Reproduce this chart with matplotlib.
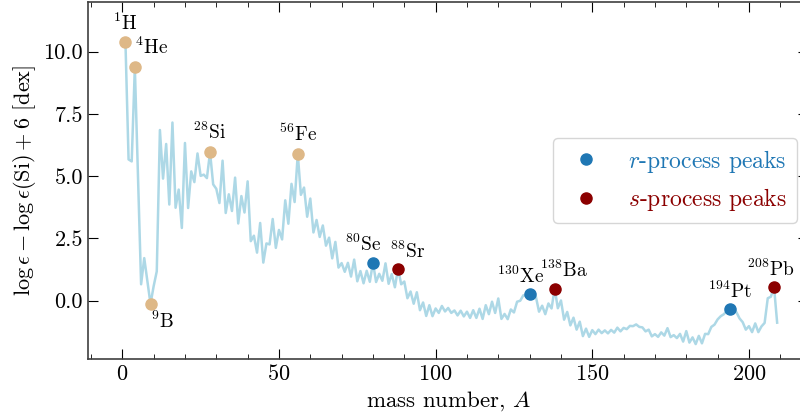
import matplotlib
matplotlib.use("Agg")
import matplotlib.pyplot as plt
from matplotlib.ticker import MultipleLocator, FormatStrFormatter

# solar abundance per mass number (isobars summed), log eps - log eps(Si) + 6
mass_number = [1, 2, 3, 4, 6, 7, 9, 10, 11, 12, 13, 14, 15, 16, 17, 18, 19, 20,
               21, 22, 23, 24, 25, 26, 27, 28, 29, 30, 31, 32, 33, 34, 35, 36, 37,
               38, 39, 40, 41, 42, 43, 44, 45, 46, 47, 48, 49, 50, 51, 52, 53, 54,
               55, 56, 57, 58, 59, 60, 61, 62, 63, 64, 65, 66, 67, 68, 69, 70, 71,
               72, 73, 74, 75, 76, 77, 78, 79, 80, 81, 82, 83, 84, 85, 86, 87, 88,
               89, 90, 91, 92, 93, 94, 95, 96, 97, 98, 99, 100, 101, 102, 103, 104,
               105, 106, 107, 108, 109, 110, 111, 112, 113, 114, 115, 116, 117, 118,
               119, 120, 121, 122, 123, 124, 125, 126, 127, 128, 129, 130, 131, 132,
               133, 134, 135, 136, 137, 138, 139, 140, 141, 142, 143, 144, 145, 146,
               147, 148, 149, 150, 151, 152, 153, 154, 155, 156, 157, 158, 159, 160,
               161, 162, 163, 164, 165, 166, 167, 168, 169, 170, 171, 172, 173, 174,
               175, 176, 177, 178, 179, 180, 181, 182, 183, 184, 185, 186, 187, 188,
               189, 190, 191, 192, 193, 194, 195, 196, 197, 198, 199, 200, 201, 202,
               203, 204, 205, 206, 207, 208, 209]
log_abund = [10.39, 5.67, 5.59, 9.37, 0.66, 1.71, -0.13, 0.58, 1.18, 6.85, 4.90,
             6.29, 3.86, 7.15, 3.73, 4.46, 2.92, 6.33, 3.72, 5.19, 4.76, 5.91, 5.01,
             5.06, 4.92, 5.96, 4.67, 4.49, 3.92, 5.62, 3.52, 4.27, 3.60, 4.94, 3.10,
             4.20, 3.54, 4.79, 2.39, 2.61, 1.93, 3.12, 1.53, 2.30, 2.26, 3.28, 2.12,
             2.84, 2.46, 4.03, 3.09, 4.69, 3.96, 5.89, 4.25, 4.54, 3.37, 4.10, 2.74,
             3.24, 2.56, 3.02, 2.21, 2.53, 1.70, 2.36, 1.33, 1.51, 1.16, 1.52, 0.97,
             1.65, 0.78, 1.19, 0.70, 1.20, 0.76, 1.53, 0.75, 1.08, 0.80, 1.50, 0.68,
             1.07, 0.54, 1.29, 0.66, 0.77, 0.10, 0.37, -0.12, 0.34, -0.38, -0.07,
             -0.61, -0.18, -0.62, -0.31, -0.49, -0.21, -0.43, -0.29, -0.49, -0.39,
             -0.59, -0.40, -0.63, -0.44, -0.69, -0.38, -0.69, -0.32, -0.73, -0.18,
             -0.54, -0.04, -0.49, 0.09, -0.73, -0.53, -0.74, -0.35, -0.47, -0.04,
             0.00, 0.22, 0.17, 0.27, 0.07, 0.16, -0.44, -0.20, -0.54, -0.11, -0.31,
             0.49, -0.30, 0.01, -0.76, -0.45, -0.99, -0.68, -1.16, -0.84, -1.42,
             -1.12, -1.45, -1.18, -1.34, -1.16, -1.30, -1.19, -1.31, -1.17, -1.28,
             -1.08, -1.23, -1.09, -1.14, -1.01, -1.02, -0.95, -1.05, -1.07, -1.23,
             -1.16, -1.43, -1.34, -1.45, -1.27, -1.40, -1.10, -1.46, -1.38, -1.50,
             -1.33, -1.64, -1.22, -1.68, -1.47, -1.74, -1.41, -1.71, -1.33, -1.34,
             -1.05, -0.96, -0.75, -0.62, -0.54, -0.39, -0.35, -0.34, -0.46, -0.71,
             -0.86, -1.16, -1.02, -1.26, -0.91, -1.26, -1.03, -0.89, 0.10, 0.16,
             0.56, -0.88]

# highlighted isotopes
light_A = [1, 4, 9, 28, 56]
light_lab = ["H", "He", "B", "Si", "Fe"]
r_A = [80, 130, 194]
r_lab = ["Se", "Xe", "Pt"]
s_A = [88, 138, 208]
s_lab = ["Sr", "Ba", "Pb"]

plt.rcParams["font.family"] = "serif"
plt.rcParams["font.serif"] = ["cmr10"]
plt.rcParams["mathtext.fontset"] = "cm"
plt.rcParams["axes.formatter.use_mathtext"] = True

fig = plt.figure(figsize=(8, 4.19), dpi=100)
ax = fig.add_axes([0.1098, 0.1425, 0.9008, 0.8535])

ax.plot(mass_number, log_abund, color="lightblue", lw=1.8, zorder=1)

val = dict(zip(mass_number, log_abund))
ax.plot(light_A, [val[a] for a in light_A], "o", color="burlywood", ms=8, zorder=3)
ax.plot(r_A, [val[a] for a in r_A], "o", color="#1f77b4", ms=8, zorder=3,
        label="$r$-process peaks")
ax.plot(s_A, [val[a] for a in s_A], "o", color="darkred", ms=8, zorder=3,
        label="$s$-process peaks")

# label offsets in pixels (dx, dy, ha, va)
offs = {1: (0, 8, "center", "bottom"), 4: (0, 9, "left", "bottom"),
        9: (0, -7, "left", "top"), 28: (0, 9, "center", "bottom"),
        56: (0, 9, "center", "bottom"), 80: (-10, 8, "center", "bottom"),
        88: (10, 7, "center", "bottom"), 130: (-9, 7, "center", "bottom"),
        138: (9, 8, "center", "bottom"), 194: (0, 7, "center", "bottom"),
        208: (-3, 7, "center", "bottom")}
for A_list, labs in [(light_A, light_lab), (r_A, r_lab), (s_A, s_lab)]:
    for a, el in zip(A_list, labs):
        dx, dy, ha, va = offs[a]
        ax.annotate(r"$^{%d}$%s" % (a, el), (a, val[a]), xytext=(dx, dy),
                    textcoords="offset pixels", ha=ha, va=va, fontsize=14)

ax.set_xlim(-11, 219)
ax.set_ylim(-2.35, 12.0)
ax.xaxis.set_major_locator(MultipleLocator(50))
ax.xaxis.set_minor_locator(MultipleLocator(10))
ax.yaxis.set_major_locator(MultipleLocator(2.5))
ax.yaxis.set_major_formatter(FormatStrFormatter("%.1f"))
ax.tick_params(which="both", direction="in", top=True, right=True, labelsize=16)
ax.tick_params(which="major", length=7)
ax.tick_params(which="minor", length=3.5)
for sp in ax.spines.values():
    sp.set_color("0.25")
    sp.set_linewidth(1.2)

ax.set_xlabel("mass number, $A$", fontsize=16.5)
ax.set_ylabel(r"$\log\epsilon - \log\epsilon(\mathrm{Si}) + 6$ [dex]", fontsize=16)

ax.legend(loc="center right", fontsize=17, labelcolor=["#1f77b4", "darkred"])

fig.savefig("out.png", dpi=100)
